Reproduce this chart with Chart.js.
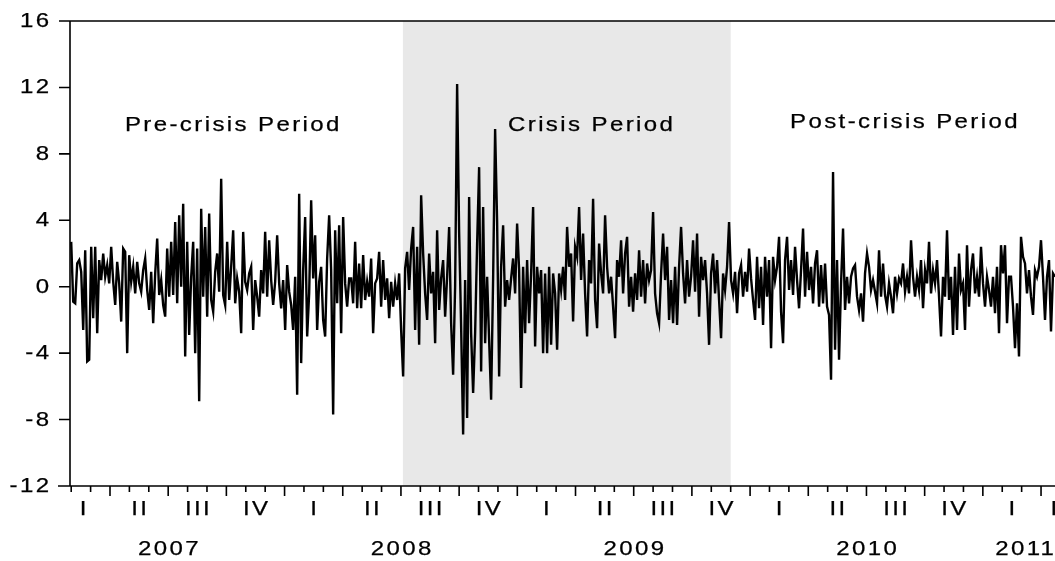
<!DOCTYPE html>
<html>
<head>
<meta charset="utf-8">
<script src="https://cdn.jsdelivr.net/npm/chart.js@4.4.0/dist/chart.umd.min.js"></script>
<style>
  html, body { margin: 0; padding: 0; background: #fff; }
  canvas { display: block; }
</style>
</head>
<body>
<canvas id="returns-chart" width="1055" height="561"></canvas>
<script>
// returns (one value every ~2 px, Feb 2007 .. Apr 2011)
const returns = [
  2.7, -0.9, -1.0, 1.4, 1.6, 0.9, -2.6, 2.2, -4.5, -4.4,
  2.4, -1.9, 2.4, -2.8, 1.6, 0.4, 2.0, 0.6, 1.3, 0.2,
  2.4, 0.3, -1.1, 1.5, 0.2, -2.1, 2.3, 2.1, -4.0, 1.9,
  0.3, 1.2, -0.4, 1.5, 0.2, -0.3, 1.0, 1.7, -0.2, -1.4,
  0.9, -2.2, 0.8, 2.9, -0.5, 0.4, -1.1, -1.8, 2.3, -0.6,
  2.7, -0.5, 3.9, -1.0, 4.3, 0.0, 5.0, -4.2, 2.7, -2.9,
  0.6, 2.7, -4.0, 2.3, -6.9, 4.7, -0.6, 3.6, -1.8, 4.4,
  -0.8, -1.5, 0.9, 2.0, -0.3, 6.5, -0.5, -1.1, 2.7, -0.8,
  1.2, 3.4, -1.0, 0.5, -0.3, -2.8, 3.3, 0.3, -0.2, 0.8,
  1.2, -2.6, 0.4, -0.6, -1.8, 1.0, -0.4, 3.3, -0.6, 2.8,
  0.4, -1.1, 0.3, 3.1, 0.2, -1.3, 0.4, -2.6, 1.3, -0.3,
  -1.1, -2.6, 0.6, -6.5, 5.6, -4.6, 1.0, 4.2, -3.0, -0.4,
  5.2, 0.5, 3.1, -2.6, 0.3, 1.2, -2.0, -3.0, 1.7, 4.3,
  1.0, -7.7, 3.4, -1.0, 3.7, -2.8, 4.2, 0.2, -1.2, 0.5,
  0.5, -1.0, 2.7, -1.3, 1.4, -1.3, 1.9, -0.8, 0.3, -0.6,
  1.7, -2.8, 0.2, 0.5, 2.1, -1.2, 1.6, -0.8, 0.5, -1.9,
  0.3, -1.2, 0.2, -0.8, 0.8, -2.6, -5.4, 1.1, 2.1, -0.2,
  2.3, 3.6, -2.6, 2.4, -3.5, 5.5, 2.0, -0.4, -2.0, 2.0,
  -0.4, 0.9, -3.4, 3.4, -1.4, 0.5, 1.6, -1.8, 0.6, 3.6,
  -2.2, -5.3, 0.0, 12.2, 3.3, -2.4, -8.9, 0.4, -7.9, 5.4,
  -2.8, -6.4, -2.8, 2.6, 7.2, -5.1, 4.8, -3.4, 0.6, -3.2,
  -6.8, 0.5, 9.5, 3.9, -5.4, 1.2, 3.7, -1.2, 0.4, -0.8,
  0.5, 1.7, -0.4, 3.8, 1.0, -6.1, 1.2, -2.8, 1.6, -2.2,
  0.8, 4.8, -3.6, 1.2, -0.4, 1.0, -4.0, 0.8, -4.0, 1.2,
  -3.5, 0.8, -0.4, -3.8, 0.8, -0.2, 1.2, -0.8, 3.6, 1.2,
  2.0, -2.1, 2.4, 1.8, 4.8, 0.4, 3.2, -0.4, -3.0, 1.6,
  0.2, 5.3, -0.8, -2.5, 2.6, 0.8, -0.4, 4.3, 1.2, -0.4,
  0.6, -1.2, -3.1, 1.6, 0.6, 2.8, -0.4, 2.0, 3.0, -1.2,
  0.6, -1.5, 0.8, -0.8, 2.2, -0.6, 1.6, -1.0, 1.4, 0.4,
  1.0, 4.5, -0.4, -1.6, -2.2, 0.8, 3.2, 0.4, 2.4, -2.0,
  0.4, -2.2, 1.2, -2.3, 1.2, 3.6, 0.8, -1.0, 1.6, -0.6,
  0.6, 2.8, -0.3, 3.2, -1.8, 1.8, 0.4, 1.6, -0.4, -3.5,
  0.8, 2.0, -0.4, 1.6, -0.8, -3.1, 0.8, -0.2, 1.2, 3.9,
  0.4, -0.4, 0.9, -1.6, 0.8, 1.3, -0.6, 0.9, -0.3, 2.3,
  0.5, -0.8, -2.0, 1.8, -1.3, 1.2, -2.3, 1.8, -0.6, 1.6,
  -3.7, 1.8, 0.4, 1.2, 3.0, -1.5, -3.4, 1.6, 3.0, -0.2,
  1.6, -0.5, 2.4, 0.4, -1.3, 1.0, 3.5, -0.6, 2.1, -0.2,
  1.2, -1.0, 1.4, 2.2, -1.2, 1.3, -1.0, 1.4, -1.2, -1.7,
  -5.6, 6.9, -3.8, 1.6, -4.4, 0.2, 3.5, -1.4, 0.6, -1.0,
  0.6, 1.1, 1.3, -0.6, -1.4, -0.4, -2.1, 0.8, 2.0, 1.2,
  -0.2, 0.4, -0.3, -1.0, 2.2, -0.6, 1.4, -0.5, -1.2, 0.2,
  -0.6, -1.6, 0.6, -0.4, 0.5, 0.2, 1.4, -0.3, 0.6, -0.4,
  2.8, 0.6, -0.6, 0.6, -0.2, 1.6, -1.3, 1.0, 0.2, 2.7,
  -0.4, 1.0, 0.2, 1.6, -0.6, -3.0, 0.6, -0.6, 3.4, -0.8,
  0.6, -2.9, 1.2, -2.6, 2.0, -0.2, 0.2, -2.6, 2.5, -1.2,
  1.0, 2.0, -0.4, 0.6, -0.6, 2.4, 0.2, -1.2, 0.6, -0.2,
  -1.2, 0.6, -1.6, 1.2, -2.8, 2.5, 0.8, 2.5, -2.2, 0.6,
  0.6, -1.2, -3.7, -1.0, -4.2, 3.0, 1.8, 1.4, -0.4, 1.0,
  -0.6, -1.7, 1.0, 0.6, 1.2, 2.8, 0.6, -2.0, 0.6, 1.6,
  -2.7, 0.8, 0.6
];

// time axis in months since 1 Jan 2007
const firstObs = 1.0;
const lastObs = 51.72;
const crisisStart = 18.1;   // early Jul 2008
const crisisEnd = 35.0;     // Dec 2009

const yTicks = [-12, -8, -4, 0, 4, 8, 12, 16];
const quarterLabels = ['I', 'II', 'III', 'IV', 'I', 'II', 'III', 'IV', 'I', 'II', 'III', 'IV',
  'I', 'II', 'III', 'IV', 'I', 'II'];
const quarterMonths = [1.61, 4.5, 7.5, 10.5, 13.5, 16.5, 19.5, 22.5, 25.5, 28.5, 31.5, 34.5,
  37.5, 40.5, 43.5, 46.5, 49.5, 51.9];
const yearLabels = ['2007', '2008', '2009', '2010', '2011'];
const yearMonths = [6, 18, 30, 42, 50.15];
const periodLabels = ['Pre-crisis Period', 'Crisis Period', 'Post-crisis Period'];

// where the period captions sit (left edge in months, baseline in return units)
const periodAnchors = [[3.77, 9.39], [23.52, 9.39], [38.06, 9.57]];

const step = (lastObs - firstObs) / (returns.length - 1);
const points = returns.map((v, i) => ({ x: firstObs + i * step, y: v }));

// EViews-like text: wide glyphs, loose tracking
function drawText(ctx, text, px, py, align) {
  const sx = 1.2, spacing = 2;
  ctx.save();
  ctx.font = '20px "Liberation Sans", Arial, sans-serif';
  ctx.letterSpacing = spacing + 'px';
  ctx.fillStyle = '#000';
  ctx.strokeStyle = '#000';
  ctx.lineWidth = 0.25;
  ctx.textAlign = 'left';
  ctx.textBaseline = 'alphabetic';
  const w = (ctx.measureText(text).width - spacing) * sx;
  let left = px;
  if (align === 'center') left = px - w / 2;
  else if (align === 'right') left = px - w;
  ctx.translate(left, py);
  ctx.scale(sx, 1);
  ctx.fillText(text, 0, 0);
  ctx.strokeText(text, 0, 0);
  ctx.restore();
}

const eviewsFrame = {
  id: 'eviewsFrame',
  beforeDatasetsDraw(chart) {
    const { ctx, chartArea: a, scales: { x } } = chart;
    const x0 = x.getPixelForValue(crisisStart);
    const x1 = x.getPixelForValue(crisisEnd);
    ctx.save();
    ctx.fillStyle = '#e8e8e8';
    ctx.fillRect(x0, a.top, x1 - x0, a.bottom - a.top);
    ctx.restore();
  },
  afterDatasetsDraw(chart) {
    const { ctx, chartArea: a, scales: { x, y } } = chart;
    ctx.save();
    ctx.strokeStyle = '#000';
    ctx.lineWidth = 1.6;
    ctx.beginPath();
    ctx.moveTo(a.left, a.top); ctx.lineTo(a.right, a.top);
    ctx.moveTo(a.left, a.top); ctx.lineTo(a.left, a.bottom);
    ctx.moveTo(a.left - 12, a.bottom); ctx.lineTo(a.right, a.bottom);
    yTicks.forEach(t => {
      const py = y.getPixelForValue(t);
      ctx.moveTo(a.left - 11, py); ctx.lineTo(a.left, py);
    });
    for (let m = 1; m <= 51; m++) {
      const px = x.getPixelForValue(m);
      ctx.moveTo(px, a.bottom); ctx.lineTo(px, a.bottom + (m % 3 === 0 ? 10 : 6));
    }
    ctx.stroke();
    ctx.restore();

    yTicks.forEach(t => drawText(ctx, String(t), 49, y.getPixelForValue(t) + 6, 'right'));
    quarterLabels.forEach((q, i) => drawText(ctx, q, x.getPixelForValue(quarterMonths[i]), 515, 'center'));
    yearLabels.forEach((yr, i) => drawText(ctx, yr, x.getPixelForValue(yearMonths[i]), 555, 'center'));
    periodLabels.forEach((p, i) => {
      const [m, v] = periodAnchors[i];
      drawText(ctx, p, x.getPixelForValue(m), y.getPixelForValue(v), 'left');
    });
  }
};

new Chart(document.getElementById('returns-chart').getContext('2d'), {
  type: 'line',
  plugins: [eviewsFrame],
  data: {
    datasets: [{
      data: points,
      borderColor: '#000',
      borderWidth: 2.4,
      pointRadius: 0,
      tension: 0
    }]
  },
  options: {
    responsive: false,
    animation: false,
    layout: { padding: { left: 70, right: 0, top: 21, bottom: 75 } },
    scales: {
      x: { type: 'linear', min: 0.938, max: 51.72, display: false },
      y: { type: 'linear', min: -12, max: 16, display: false }
    },
    plugins: {
      legend: { display: false },
      tooltip: { enabled: false }
    }
  }
});
</script>
</body>
</html>
